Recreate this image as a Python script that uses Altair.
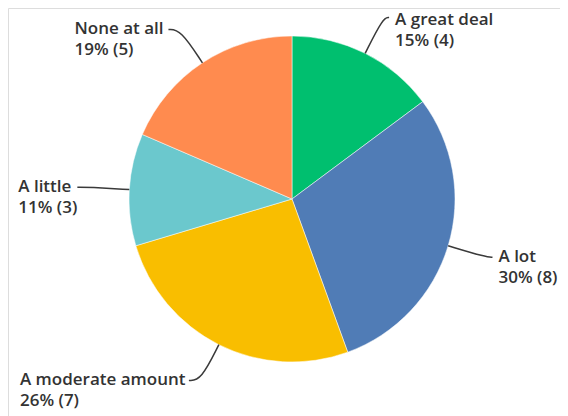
import math
import altair as alt
import pandas as pd

# ---- data ----
categories = ["A great deal", "A lot", "A moderate amount", "A little", "None at all"]
counts = [4, 8, 7, 3, 5]
colors = ["#00BF6F", "#507CB6", "#F9BE00", "#6BC8CD", "#FF8B4F"]

# ---- layout constants ----
W, H = 552, 408
CX, CY, R = 284, 191, 163
FONT = "Open Sans"
FS = 17
LINE_H = 21
TEXT_COLOR = "#333333"

total = sum(counts)

# approximate Open Sans SemiBold advance widths (em) for left-side label placement
_w = {"A": .673, "N": .763, " ": .26, "a": .589, "c": .497, "d": .627, "e": .578,
      "g": .556, "i": .285, "l": .285, "m": .952, "n": .638, "o": .612, "r": .434,
      "t": .389, "u": .638, "%": .87, "(": .319, ")": .319}
def text_width(s):
    return sum(_w.get(ch, .572) for ch in s) * FS * 0.975

rows, lines, labels = [], [], []
cum = 0
for i, (cat, n) in enumerate(zip(categories, counts)):
    start = cum / total * 2 * math.pi
    cum += n
    end = cum / total * 2 * math.pi
    a = (start + end) / 2
    s, c = math.sin(a), math.cos(a)
    side = 1 if s > 0 else -1
    tail = 6 if side > 0 else 12
    p0 = (CX + s * R, CY - c * R)
    p1 = (CX + s * (R + 40), CY - c * (R + 40))
    p2 = (p1[0] + side * tail, p1[1])
    line1 = cat
    line2 = f"{round(n / total * 100)}% ({n})"
    rows.append({"cat": cat, "count": n, "order": i})
    for k, p in enumerate([p0, p1, p2]):
        lines.append({"cat": cat, "k": k, "x": p[0], "y": p[1]})
    if side > 0:
        tx = p2[0] + 6
    else:
        tx = p2[0] - 7 - text_width(line1)
    ty = max(p2[1], 12)
    labels.append({"cat": cat, "x": tx, "y": ty, "t": line1})
    labels.append({"cat": cat, "x": tx, "y": ty + LINE_H, "t": line2})

pie_df = pd.DataFrame(rows)
line_df = pd.DataFrame(lines)
lab_df = pd.DataFrame(labels)

xs = alt.Scale(domain=[0, W], range=[0, W], nice=False, zero=False)
ys = alt.Scale(domain=[0, H], range=[0, H], nice=False, zero=False)

pie = alt.Chart(pie_df).mark_arc(outerRadius=R, stroke="white", strokeWidth=0.5).encode(
    theta=alt.Theta("count:Q", stack=True),
    order=alt.Order("order:Q"),
    color=alt.Color("cat:N", scale=alt.Scale(domain=categories, range=colors), legend=None),
    x=alt.value(CX),
    y=alt.value(CY),
)

leaders = alt.Chart(line_df).mark_line(
    color="#3a3a3a", strokeWidth=1.5, interpolate="basis"
).encode(
    x=alt.X("x:Q", scale=xs, axis=None),
    y=alt.Y("y:Q", scale=ys, axis=None),
    detail="cat:N",
    order="k:Q",
)

texts = alt.Chart(lab_df).mark_text(
    align="left", baseline="middle", font=FONT, fontSize=FS, fontWeight=600, color=TEXT_COLOR
).encode(
    x=alt.X("x:Q", scale=xs, axis=None),
    y=alt.Y("y:Q", scale=ys, axis=None),
    text="t:N",
)

chart = alt.layer(pie, leaders, texts).properties(
    width=W, height=H, padding=0, autosize=alt.AutoSizeParams(type="none")
).configure_view(stroke=None).configure(background="white")

chart.save("out.html", embed_options={"renderer": "svg", "actions": False})
